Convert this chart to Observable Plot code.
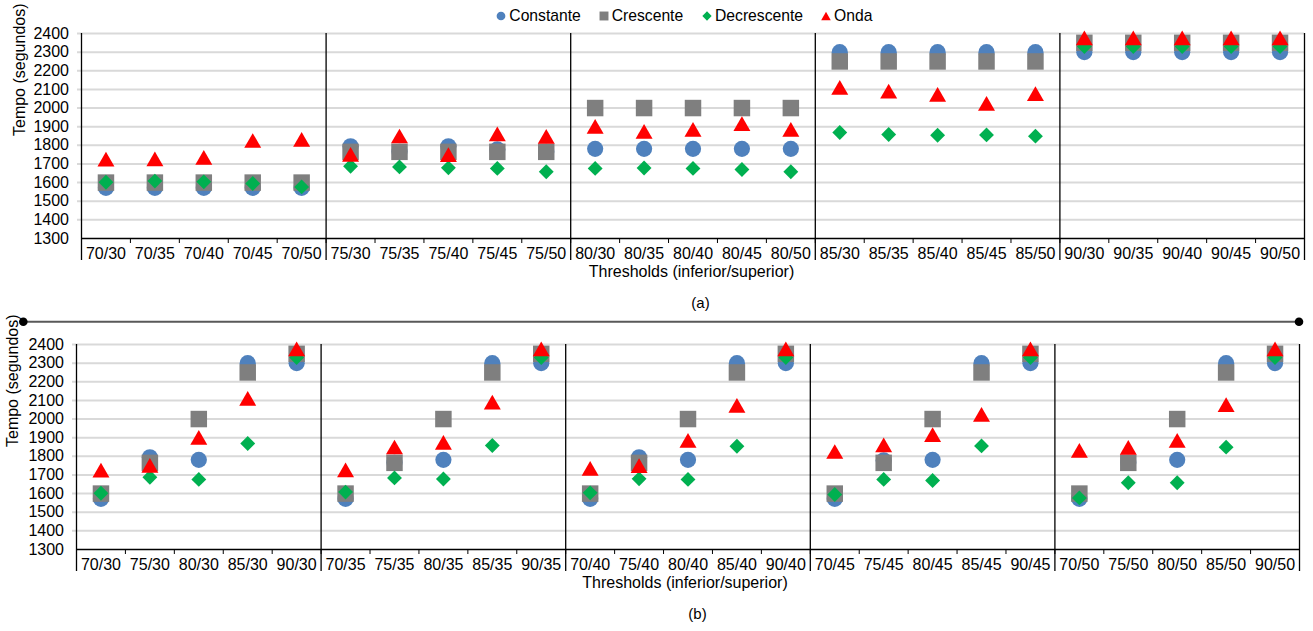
<!DOCTYPE html>
<html>
<head>
<meta charset="utf-8">
<script src="https://cdn.jsdelivr.net/npm/d3@7"></script>
<script src="https://cdn.jsdelivr.net/npm/@observablehq/plot@0.6"></script>
<style>
  html, body { margin: 0; padding: 0; background: #fff; overflow: hidden; }
  #chart { position: relative; width: 1313px; height: 631px; background: #fff;
           font-family: "Liberation Sans", Arial, Helvetica, sans-serif; font-size: 16px; color: #000; }
  #chart > * { position: absolute; }
</style>
</head>
<body>
<div id="chart"></div>
<script>
// Threshold pairs (inferior/superior)
const inferior = [70, 75, 80, 85, 90];
const superior = [30, 35, 40, 45, 50];

// Categories grouped by inferior threshold (panel a)
const categoriesA = ["70/30", "70/35", "70/40", "70/45", "70/50",
                     "75/30", "75/35", "75/40", "75/45", "75/50",
                     "80/30", "80/35", "80/40", "80/45", "80/50",
                     "85/30", "85/35", "85/40", "85/45", "85/50",
                     "90/30", "90/35", "90/40", "90/45", "90/50"];

// Same categories grouped by superior threshold (panel b)
const categoriesB = ["70/30", "75/30", "80/30", "85/30", "90/30",
                     "70/35", "75/35", "80/35", "85/35", "90/35",
                     "70/40", "75/40", "80/40", "85/40", "90/40",
                     "70/45", "75/45", "80/45", "85/45", "90/45",
                     "70/50", "75/50", "80/50", "85/50", "90/50"];

// Time in seconds, listed in the order of categoriesA
const constante   = [1572, 1572, 1572, 1572, 1572,
                     1795, 1765, 1795, 1778, 1765,
                     1781, 1781, 1781, 1781, 1781,
                     2300, 2300, 2300, 2300, 2300,
                     2300, 2300, 2300, 2300, 2300];
const crescente   = [1600, 1600, 1600, 1600, 1600,
                     1765, 1765, 1765, 1765, 1765,
                     2000, 2000, 2000, 2000, 2000,
                     2250, 2250, 2250, 2250, 2250,
                     2350, 2350, 2350, 2350, 2350];
const decrescente = [1602, 1608, 1604, 1595, 1577,
                     1688, 1684, 1679, 1676, 1658,
                     1676, 1678, 1676, 1670, 1658,
                     1869, 1858, 1854, 1856, 1849,
                     2330, 2330, 2330, 2330, 2330];
const onda        = [1726, 1727, 1735, 1826, 1832,
                     1751, 1850, 1750, 1861, 1848,
                     1902, 1875, 1886, 1916, 1886,
                     2111, 2091, 2073, 2025, 2077,
                     2377, 2377, 2377, 2377, 2377];

const seriesNames = ["Constante", "Crescente", "Decrescente", "Onda"];
const seriesValues = [constante, crescente, decrescente, onda];

const yTicks = [1300, 1400, 1500, 1600, 1700, 1800, 1900, 2000, 2100, 2200, 2300, 2400];

// Marker styling per series
const markerStyle = {
  Constante:   {color: "#4f81bd", symbol: "circle",   r: 8.1},
  Crescente:   {color: "#7f7f7f", symbol: "square",   r: 9.3},
  Decrescente: {color: "#00b050", symbol: "diamond2", r: 6.7},
  Onda:        {color: "#ff0000", symbol: "triangle", r: 6.3}
};

// d3 triangles are centred on their centroid; shift so the box centre sits on the value
function triangleShift(r) {
  const h = Math.sqrt(Math.PI * r * r / (3 * Math.sqrt(3)));
  return h / 2;
}

const rows = seriesNames.flatMap((s, k) =>
  categoriesA.map((c, i) => ({series: s, category: c, value: seriesValues[k][i]})));

const FONT = '"Liberation Sans", Arial, Helvetica, sans-serif';

function panel({order, marginLeft, marginRight, titleDx, xTitleDx, tag, tagDx}) {
  const pos = new Map(order.map((c, i) => [c, i]));
  const groupEdges = d3.range(0, order.length + 1, 5);
  return Plot.plot({
    width: 1313,
    height: 320,
    marginTop: 33,
    marginBottom: 82,
    marginLeft,
    marginRight,
    style: {fontFamily: FONT, fontSize: "16px", background: "transparent", color: "#000", overflow: "visible"},
    x: {type: "linear", domain: [0, order.length], axis: null},
    y: {domain: [1300, 2400], axis: null},
    color: {domain: seriesNames, range: seriesNames.map(s => markerStyle[s].color)},
    marks: [
      // horizontal gridlines
      Plot.ruleY(yTicks.slice(1), {stroke: "#d9d9d9", strokeWidth: 2, insetLeft: -4}),
      // category ticks along the bottom axis
      Plot.axisX({ticks: d3.range(order.length + 1), tickSize: 5, tickFormat: () => "", stroke: "#000", strokeWidth: 1, label: null}),
      Plot.ruleY([1300], {stroke: "#000", strokeWidth: 1.4}),
      // group separators
      Plot.ruleX(groupEdges, {stroke: "#000", strokeWidth: 1.3, insetBottom: -22}),
      Plot.axisY({ticks: yTicks, tickSize: 0, tickPadding: 12.5, tickFormat: d => String(d), label: null, fontSize: 16}),
      Plot.axisX({ticks: d3.range(order.length).map(i => i + 0.5), tickSize: 0, tickPadding: 9,
                  tickFormat: v => order[Math.floor(v)], label: null, fontSize: 16}),
      ...seriesNames.map(s => {
        const m = markerStyle[s];
        return Plot.dot(rows.filter(d => d.series === s), {
          x: d => pos.get(d.category) + 0.5,
          y: "value",
          fill: "series",
          symbol: m.symbol,
          r: m.r,
          dy: m.symbol === "triangle" ? triangleShift(m.r) : 0
        });
      }),
      Plot.text(["Tempo (segundos)"], {text: d => d, frameAnchor: "left", dx: titleDx, rotate: -90, fontSize: 16}),
      Plot.text(["Thresholds (inferior/superior)"], {text: d => d, frameAnchor: "bottom", dy: 38, dx: xTitleDx, fontSize: 16}),
      Plot.text([tag], {text: d => d, frameAnchor: "bottom", dy: 69, dx: tagDx, fontSize: 15})
    ]
  });
}

const chart = document.getElementById("chart");

const svgA = panel({order: categoriesA, marginLeft: 81, marginRight: 9, titleDx: -61.5, xTitleDx: -1.5, tag: "(a)", tagDx: 7.5});
svgA.style.top = "0px";
svgA.style.left = "0px";
chart.appendChild(svgA);

const svgB = panel({order: categoriesB, marginLeft: 76, marginRight: 14, titleDx: -63.5, xTitleDx: -3, tag: "(b)", tagDx: 9.5});
svgB.style.top = "311px";
svgB.style.left = "0px";
chart.appendChild(svgB);

// Divider between the two panels
const divider = d3.create("svg").attr("width", 1313).attr("height", 14)
  .style("top", "315px").style("left", "0px");
divider.append("line").attr("x1", 23.3).attr("x2", 1299).attr("y1", 6.7).attr("y2", 6.7)
  .attr("stroke", "#595959").attr("stroke-width", 2);
divider.selectAll("circle").data([23.3, 1299]).join("circle")
  .attr("cx", d => d).attr("cy", 6.7).attr("r", 4.3).attr("fill", "#000");
chart.appendChild(divider.node());

// Legend
const legendItems = [
  {name: "Constante",   mx: 501,   tx: 509.3, size: 60},
  {name: "Crescente",   mx: 604,   tx: 611.7, size: 80},
  {name: "Decrescente", mx: 706.7, tx: 715,   size: 55},
  {name: "Onda",        mx: 826,   tx: 834,   size: 40}
];
const symbolOf = {circle: d3.symbolCircle, square: d3.symbolSquare, diamond2: d3.symbolDiamond2, triangle: d3.symbolTriangle};
for (const it of legendItems) {
  const m = markerStyle[it.name];
  const s = d3.create("svg").attr("width", 14).attr("height", 14)
    .style("left", (it.mx - 7) + "px").style("top", (15.7 - 7) + "px");
  const shift = m.symbol === "triangle" ? Math.sqrt(it.size / (3 * Math.sqrt(3))) / 2 : 0;
  s.append("path").attr("d", d3.symbol(symbolOf[m.symbol], it.size)())
    .attr("transform", `translate(7,${7 + shift})`).attr("fill", m.color);
  chart.appendChild(s.node());
  const t = document.createElement("div");
  t.textContent = it.name;
  t.style.left = it.tx + "px";
  t.style.top = "6px";
  t.style.fontSize = "15.7px";
  t.style.lineHeight = "20px";
  chart.appendChild(t);
}
</script>
</body>
</html>
